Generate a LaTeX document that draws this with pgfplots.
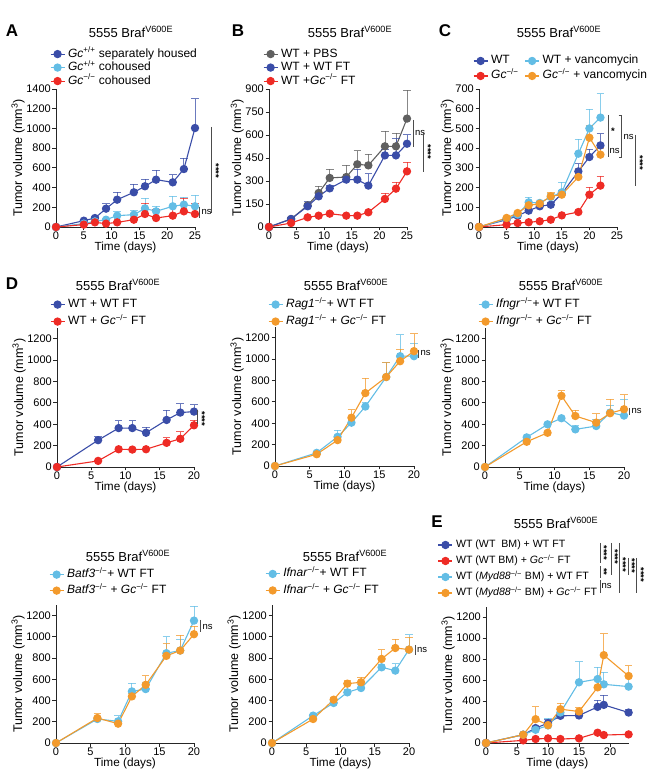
\documentclass[border=0pt]{standalone}
\usepackage{fontspec}
\setmainfont{Liberation Sans}
\usepackage{pgfplots}
\pgfplotsset{compat=1.18}
\definecolor{cdb}{HTML}{3A4DA8}
\definecolor{clb}{HTML}{63BDE5}
\definecolor{cred}{HTML}{EE2B25}
\definecolor{cor}{HTML}{F39A2C}
\definecolor{cgr}{HTML}{606060}
\newcommand{\ko}{\textsuperscript{−/−}}
\newcommand{\wt}{\textsuperscript{+/+}}
\pgfplotsset{
  prism/.style={
    scale only axis, axis lines=left, xmin=0, ymin=0, clip=false,
    axis line style={-, line width=0.9pt, black!85},
    tick align=outside, major tick length=3.5pt,
    every tick/.style={line width=0.9pt, black!85},
    tick label style={font=\fontsize{11}{12}\selectfont, inner sep=1.5pt},
    /pgf/number format/assume math mode=true,
    /pgf/number format/1000 sep={},
    xlabel={Time (days)}, ylabel={Tumor volume (mm\textsuperscript{3})},
    xlabel style={font=\fontsize{11.8}{13}\selectfont, inner sep=0pt},
    ylabel style={font=\fontsize{12.5}{14}\selectfont, inner sep=0pt},
    legend cell align=left,
    legend style={draw=none, fill=none, inner sep=0pt, outer sep=0pt, anchor=north west,
      font=\fontsize{12}{13}\selectfont, nodes={inner sep=0pt, text height=8.5pt, text depth=2.5pt},
      row sep=2.5pt, /tikz/every odd column/.style={column sep=3pt}},
    legend image code/.code={\draw[mark repeat=2, mark phase=2] plot coordinates {(0pt,0pt) (7pt,0pt) (14pt,0pt)};},
  },
  ser/.style={color=#1, line width=1.1pt, mark=*, mark size=3.6pt, mark options={solid, fill=#1, draw=#1},
    error bars/y dir=plus, error bars/y explicit,
    error bars/error bar style={line width=0.8pt, #1, opacity=0.75},
    error bars/error mark options={rotate=90, mark size=3.8pt, line width=0.8pt, #1, opacity=0.75}},
}
\tikzset{stars/.style={rotate=-90, font=\fontsize{9.5}{9.5}\selectfont\bfseries, inner sep=0pt},
  ns/.style={anchor=west, font=\fontsize{9.5}{10}\selectfont, inner sep=0pt},
  sig/.style={line width=0.8pt, black!70},
  ttl/.style={font=\fontsize{13}{14}\selectfont},
  lett/.style={font=\fontsize{17}{18}\selectfont\bfseries}}
\begin{document}
\begin{tikzpicture}
\path[use as bounding box] (0pt,0pt) rectangle (652pt,780pt);
% ---------------- A
\begin{axis}[prism, at={(56pt,553pt)}, anchor=south west, width=139pt, height=138pt,
  xmax=25, ymax=1400, xtick={0,5,...,25}, ytick={0,200,...,1400},
  legend style={at={(-0.043,1.293)}}]
\addplot[ser=cdb] table[x=x,y=y,y error=e]{
x y e
0 0 0
5 64 15
7 91 20
9 186 51
11 277 75
14 352 84
16 413 74
18 480 95
21 453 78
23 588 112
25 1004 298
};
\addlegendentry{\textit{Gc}\wt{} separately housed}
\addplot[ser=clb] table[x=x,y=y,y error=e]{
x y e
0 0 0
5 34 10
7 57 10
9 74 15
11 115 41
14 125 44
16 189 105
18 159 51
21 210 101
23 227 77
25 210 111
};
\addlegendentry{\textit{Gc}\wt{} cohoused}
\addplot[ser=cred] table[x=x,y=y,y error=e]{
x y e
0 0 0
5 24 5
7 47 8
9 34 8
11 47 8
14 74 10
16 132 111
18 91 85
21 115 95
23 159 135
25 132 111
};
\addlegendentry{\textit{Gc}\ko{} cohoused}
\end{axis}
% ---------------- B
\begin{axis}[prism, at={(269pt,553pt)}, anchor=south west, width=138pt, height=138pt,
  xmax=25, ymax=900, xtick={0,5,...,25}, ytick={0,150,...,900},
  legend style={at={(-0.043,1.293)}}]
\addplot[ser=cgr] table[x=x,y=y,y error=e]{
x y e
0 0 0
4 52 8
7 141 15
9 222 43
11 320 58
14 326 76
16 409 89
18 402 74
21 526 98
23 526 87
25 707 184
};
\addlegendentry{WT + PBS}
\addplot[ser=cdb] table[x=x,y=y,y error=e]{
x y e
0 0 0
4 52 8
7 135 32
9 200 20
11 252 20
14 309 21
16 309 69
18 270 78
21 467 40
23 467 110
25 543 60
};
\addlegendentry{WT + WT FT}
\addplot[ser=cred] table[x=x,y=y,y error=e]{
x y e
0 0 0
4 26 5
7 63 8
9 74 8
11 87 8
14 74 8
16 74 8
18 96 10
21 183 39
23 250 41
25 363 59
};
\addlegendentry{WT +\textit{Gc}\ko{} FT}
\end{axis}
% ---------------- C
\begin{axis}[prism, at={(479pt,553pt)}, anchor=south west, width=138pt, height=138pt,
  xmax=25, ymax=700, xtick={0,5,...,25}, ytick={0,100,...,700},
  legend columns=2,
  legend style={at={(-0.043,1.243)}, row sep=4pt, /tikz/every even column/.style={column sep=6pt}}]
\addplot[ser=cdb] table[x=x,y=y,y error=e]{
x y e
0 0 0
5 37 5
7 57 8
9 83 10
11 105 10
13 113 10
15 169 15
18 282 40
20 355 40
22 414 59
};
\addlegendentry{WT}
\addplot[ser=clb] table[x=x,y=y,y error=e]{
x y e
0 0 0
5 41 8
7 63 8
9 125 27
11 122 10
13 152 20
15 176 51
18 372 74
20 500 99
22 555 121
};
\addlegendentry{WT + vancomycin}
\addplot[ser=cred] table[x=x,y=y,y error=e]{
x y e
0 0 0
5 12 3
7 20 3
9 24 3
11 29 3
13 37 3
15 59 5
18 76 5
20 164 39
22 210 47
};
\addlegendentry{\textit{Gc}\ko}
\addplot[ser=cor] table[x=x,y=y,y error=e]{
x y e
0 0 0
5 46 5
7 71 8
9 110 10
11 118 10
13 156 20
15 164 15
18 254 42
20 453 63
22 367 30
};
\addlegendentry{\textit{Gc}\ko{} + vancomycin}
\end{axis}
% ---------------- D
\begin{axis}[prism, at={(57pt,313pt)}, anchor=south west, width=137pt, height=139pt,
  xmax=20, ymax=1300, xtick={0,5,...,20}, ytick={0,200,...,1200},
  legend style={at={(-0.051,1.208)}, row sep=6pt}]
\addplot[ser=cdb] table[x=x,y=y,y error=e]{
x y e
0 0 0
6 251 38
9 364 70
11 364 70
13 320 51
16 440 94
18 509 82
20 518 63
};
\addlegendentry{WT + WT FT}
\addplot[ser=cred] table[x=x,y=y,y error=e]{
x y e
0 0 0
6 57 5
9 166 8
11 163 8
13 166 8
16 226 47
18 264 66
20 390 50
};
\addlegendentry{WT + \textit{Gc}\ko{} FT}
\end{axis}
% ---------------- Rag1
\begin{axis}[prism, at={(275pt,314pt)}, anchor=south west, width=139pt, height=139pt,
  xmax=20, ymax=1300, xtick={0,5,...,20}, ytick={0,200,...,1200},
  legend style={at={(-0.05,1.201)}, row sep=6pt}]
\addplot[ser=clb] table[x=x,y=y,y error=e]{
x y e
0 0 0
6 123 8
9 273 60
11 405 40
13 556 40
16 832 139
18 1027 201
20 1027 120
};
\addlegendentry{\textit{Rag1}\ko+ WT FT}
\addplot[ser=cor] table[x=x,y=y,y error=e]{
x y e
0 0 0
6 110 8
9 242 15
11 452 73
13 682 141
16 832 133
18 980 110
20 1074 164
};
\addlegendentry{\textit{Rag1}\ko{} + \textit{Gc}\ko{} FT}
\end{axis}
% ---------------- Ifngr
\begin{axis}[prism, at={(485pt,313pt)}, anchor=south west, width=139pt, height=139pt,
  xmax=20, ymax=1300, xtick={0,5,...,20}, ytick={0,200,...,1200},
  legend style={at={(-0.05,1.208)}, row sep=6pt}]
\addplot[ser=clb] table[x=x,y=y,y error=e]{
x y e
0 0 0
6 277 10
9 399 10
11 456 10
13 352 41
16 383 63
18 509 63
20 481 147
};
\addlegendentry{\textit{Ifngr}\ko+ WT FT}
\addplot[ser=cor] table[x=x,y=y,y error=e]{
x y e
0 0 0
6 236 8
9 320 10
11 666 47
13 477 57
16 415 82
18 503 132
20 540 135
};
\addlegendentry{\textit{Ifngr}\ko{} + \textit{Gc}\ko{} FT}
\end{axis}
% ---------------- Batf3
\begin{axis}[prism, at={(56pt,37pt)}, anchor=south west, width=138pt, height=138pt,
  xmax=20, ymax=1300, xtick={0,5,...,20}, ytick={0,200,...,1200},
  legend style={at={(-0.05,1.26)}, row sep=5pt}]
\addplot[ser=clb] table[x=x,y=y,y error=e]{
x y e
0 0 0
6 226 20
9 204 53
11 486 78
13 508 60
16 846 157
18 871 107
20 1153 138
};
\addlegendentry{\textit{Batf3}\ko+ WT FT}
\addplot[ser=cor] table[x=x,y=y,y error=e]{
x y e
0 0 0
6 235 41
9 182 10
11 439 30
13 548 85
16 821 113
18 871 147
20 1025 78
};
\addlegendentry{\textit{Batf3}\ko{} + \textit{Gc}\ko{} FT}
\end{axis}
% ---------------- Ifnar
\begin{axis}[prism, at={(272pt,37pt)}, anchor=south west, width=137pt, height=138pt,
  xmax=20, ymax=1300, xtick={0,5,...,20}, ytick={0,200,...,1200},
  legend style={at={(-0.05,1.265)}, row sep=5.5pt}]
\addplot[ser=clb] table[x=x,y=y,y error=e]{
x y e
0 0 0
6 258 10
9 377 15
11 477 30
13 518 30
16 713 30
18 682 66
20 880 141
};
\addlegendentry{\textit{Ifnar}\ko+ WT FT}
\addplot[ser=cor] table[x=x,y=y,y error=e]{
x y e
0 0 0
6 226 8
9 408 20
11 559 30
13 572 50
16 792 88
18 895 85
20 880 119
};
\addlegendentry{\textit{Ifnar}\ko{} + \textit{Gc}\ko{} FT}
\end{axis}
% ---------------- E
\begin{axis}[prism, at={(486pt,37pt)}, anchor=south west, width=142.6pt, height=136.5pt,
  xmax=23, ymax=1300, xtick={0,5,...,20}, ytick={0,200,...,1200},
  legend style={at={(-0.337,1.491)}, row sep=5pt, font=\fontsize{10.6}{12}\selectfont}]
\addplot[ser=cdb] table[x=x,y=y,y error=e]{
x y e
0 0 0
6 79 10
8 142 15
10 189 38
12 259 20
15 262 20
18 344 66
19 363 95
23 290 32
};
\addlegendentry{WT (WT\ \ BM) + WT FT}
\addplot[ser=cred] table[x=x,y=y,y error=e]{
x y e
0 0 0
6 25 3
8 38 3
10 44 3
12 38 3
15 44 3
18 98 5
19 76 5
23 82 5
};
\addlegendentry{WT (WT BM) + \textit{Gc}\ko{} FT}
\addplot[ser=clb] table[x=x,y=y,y error=e]{
x y e
0 0 0
6 79 8
8 126 15
10 167 70
12 290 20
15 578 196
18 609 111
19 559 118
23 537 120
};
\addlegendentry{WT (\textit{Myd88}\ko{} BM) + WT FT}
\addplot[ser=cor] table[x=x,y=y,y error=e]{
x y e
0 0 0
6 79 8
8 227 120
10 170 20
12 322 57
15 300 41
18 530 20
19 837 205
23 638 98
};
\addlegendentry{WT (\textit{Myd88}\ko{} BM) + \textit{Gc}\ko{} FT}
\end{axis}
% ---------------- titles and letters
\node[ttl] at (131pt,748pt) {5555 Braf\textsuperscript{V600E}};
\node[ttl] at (350pt,748pt) {5555 Braf\textsuperscript{V600E}};
\node[ttl] at (559pt,748pt) {5555 Braf\textsuperscript{V600E}};
\node[ttl] at (118pt,495pt) {5555 Braf\textsuperscript{V600E}};
\node[ttl] at (346pt,495pt) {5555 Braf\textsuperscript{V600E}};
\node[ttl] at (561pt,495pt) {5555 Braf\textsuperscript{V600E}};
\node[ttl] at (128pt,224pt) {5555 Braf\textsuperscript{V600E}};
\node[ttl] at (345pt,224pt) {5555 Braf\textsuperscript{V600E}};
\node[ttl] at (556pt,257pt) {5555 Braf\textsuperscript{V600E}};
\node[lett] at (12pt,749pt) {A};
\node[lett] at (238pt,749pt) {B};
\node[lett] at (445pt,749pt) {C};
\node[lett] at (12pt,496pt) {D};
\node[lett] at (437pt,258pt) {E};
% ---------------- significance
% A
\draw[sig] (211.5pt,653pt) -- (211.5pt,567pt);
\node[stars] at (216pt,609pt) {****};
\draw[sig] (199.5pt,573pt) -- (199.5pt,562pt);
\node[ns] at (201.5pt,568pt) {ns};
% B
\draw[sig] (413pt,660pt) -- (413pt,633pt);
\node[ns] at (415pt,647pt) {ns};
\draw[sig] (423pt,648pt) -- (423pt,608pt);
\node[stars] at (428pt,628pt) {****};
% C
\draw[sig] (608pt,665pt) -- (608pt,623pt);
\node[font=\fontsize{9.5}{9.5}\selectfont\bfseries, inner sep=0pt] at (613pt,649pt) {*};
\draw[sig] (618.5pt,665pt) -- (621.7pt,665pt) -- (621.7pt,623pt) -- (618.5pt,623pt);
\node[ns] at (609.5pt,629pt) {ns};
\node[ns] at (623.5pt,643pt) {ns};
\draw[sig] (635pt,645pt) -- (635pt,594pt);
\node[stars] at (640pt,617pt) {****};
% D
\draw[sig] (197.5pt,370pt) -- (197.5pt,356pt);
\node[stars] at (202pt,361pt) {****};
% Rag1
\draw[sig] (418pt,430pt) -- (418pt,422pt);
\node[ns] at (420.5pt,427pt) {ns};
% Ifngr
\draw[sig] (629pt,372pt) -- (629pt,365pt);
\node[ns] at (631.5pt,369pt) {ns};
% Batf3
\draw[sig] (200pt,160pt) -- (200pt,148pt);
\node[ns] at (202.5pt,153pt) {ns};
% Ifnar
\draw[sig] (415pt,135pt) -- (415pt,125pt);
\node[ns] at (417pt,130pt) {ns};
% E
\draw[sig] (600pt,237pt) -- (600pt,217pt);
\node[stars] at (604pt,227pt) {****};
\draw[sig] (600pt,214pt) -- (600pt,202pt);
\node[stars] at (604pt,208pt) {**};
\draw[sig] (600pt,200pt) -- (600pt,187pt);
\node[ns] at (601.5pt,194pt) {ns};
\draw[sig] (611pt,237pt) -- (611pt,205pt);
\node[stars] at (615pt,223pt) {****};
\draw[sig] (619pt,237pt) -- (619pt,187pt);
\node[stars] at (623pt,215pt) {****};
\draw[sig] (628pt,222pt) -- (628pt,205pt);
\node[stars] at (632pt,214pt) {****};
\draw[sig] (636pt,222pt) -- (636pt,187pt);
\node[stars] at (641pt,205pt) {****};
\end{tikzpicture}
\end{document}
